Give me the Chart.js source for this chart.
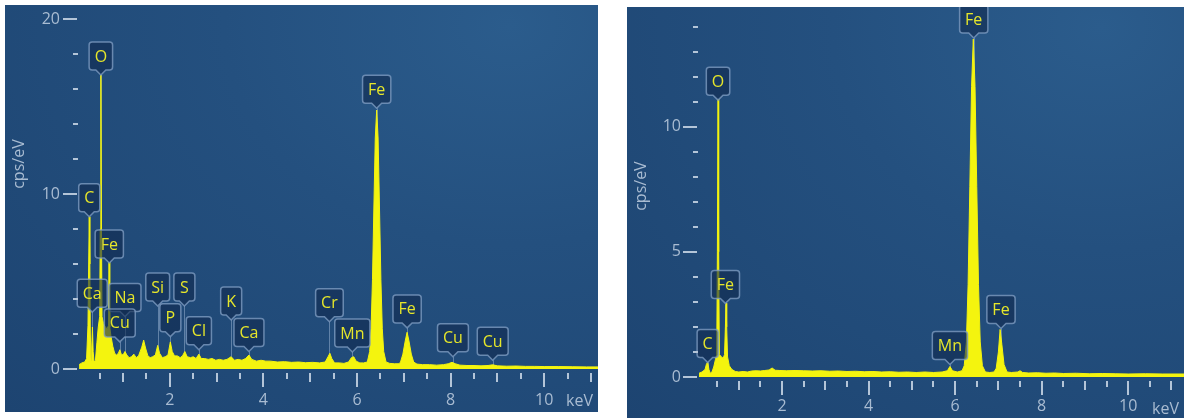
<!DOCTYPE html>
<html>
<head>
<meta charset="utf-8">
<script src="https://cdn.jsdelivr.net/npm/chart.js@4.4.1/dist/chart.umd.min.js"></script>
<style>
  body { margin: 0; background: #fff; width: 1184px; height: 419px; position: relative; overflow: hidden; }
  .panel { position: absolute; background: radial-gradient(ellipse at 85% 5%, #2b5c8c 0%, #24507f 40%, #1d4471 100%); }
  #p1 { left: 5px; top: 5px; width: 593px; height: 407px; }
  #p2 { left: 627px; top: 7px; width: 557px; height: 411px; }
</style>
</head>
<body>
<div class="panel" id="p1"><canvas id="c1"></canvas></div>
<div class="panel" id="p2"><canvas id="c2"></canvas></div>
<script>
// left spectrum (keV, cps/eV)
const energyA = [0.06,0.12,0.18,0.22,0.25,0.265,0.277,0.29,0.30,0.315,0.33,0.345,0.36,0.38,0.41,0.44,0.47,0.50,0.512,0.525,0.538,0.55,0.58,0.62,0.66,0.69,0.70,0.715,0.74,0.78,0.82,0.86,0.90,0.93,0.96,1.0,1.04,1.08,1.13,1.18,1.23,1.28,1.33,1.40,1.44,1.48,1.53,1.58,1.63,1.69,1.74,1.78,1.84,1.90,1.96,2.01,2.05,2.10,2.16,2.22,2.27,2.32,2.37,2.44,2.50,2.56,2.62,2.67,2.74,2.82,2.90,2.98,3.06,3.14,3.22,3.31,3.38,3.46,3.54,3.62,3.69,3.75,3.85,3.95,4.05,4.15,4.3,4.45,4.6,4.75,4.9,5.05,5.2,5.32,5.38,5.42,5.46,5.52,5.62,5.72,5.82,5.88,5.93,5.98,6.06,6.14,6.22,6.27,6.30,6.33,6.36,6.39,6.42,6.45,6.48,6.51,6.54,6.57,6.62,6.7,6.8,6.9,6.93,6.98,7.03,7.07,7.11,7.16,7.21,7.28,7.4,7.55,7.7,7.85,7.95,8.03,8.10,8.2,8.35,8.5,8.65,8.8,8.9,9.0,9.2,9.4,9.6,9.8,10.0,10.3,10.6,10.9,11.15];
const countsA = [0.25,0.35,0.4,0.6,2.5,6.0,8.7,6.0,2.0,0.5,1.2,2.4,1.0,0.4,0.5,1.5,2.4,3.0,8.0,16.8,8.0,3.0,2.6,2.4,2.3,2.5,6.1,2.4,1.9,1.3,0.9,0.8,0.9,1.1,0.85,0.8,1.0,0.8,0.65,0.7,0.85,0.65,0.75,1.25,1.65,1.2,0.75,0.65,0.7,0.8,1.35,0.9,0.65,0.7,0.8,1.55,1.0,0.75,0.75,0.65,0.75,1.0,0.7,0.65,0.7,0.6,0.85,0.6,0.6,0.55,0.6,0.5,0.55,0.5,0.55,0.7,0.5,0.55,0.5,0.6,0.8,0.55,0.45,0.5,0.45,0.45,0.4,0.42,0.38,0.4,0.36,0.38,0.35,0.4,0.7,0.9,0.6,0.35,0.35,0.32,0.4,0.65,0.7,0.45,0.35,0.35,0.4,1.0,2.3,5.1,9.2,13.2,14.8,13.2,9.2,5.1,2.3,1.0,0.4,0.32,0.3,0.3,0.4,0.85,1.6,2.1,1.6,0.85,0.4,0.28,0.25,0.25,0.22,0.25,0.3,0.38,0.3,0.22,0.2,0.2,0.18,0.2,0.24,0.18,0.16,0.17,0.15,0.15,0.14,0.14,0.13,0.12,0.12];
const elementsA = ["C","O","Fe","Ca","Na","Cu","Si","P","S","Cl","K","Ca","Cr","Mn","Fe","Fe","Cu","Cu"];
const elementKevA = [0.277,0.525,0.705,0.341,1.041,0.93,1.74,2.01,2.31,2.62,3.31,3.69,5.41,5.90,6.42,7.07,8.05,8.90];
const elementTipA = [8.7,16.8,6.06,3.25,3.0,1.55,3.6,1.85,3.6,1.1,2.8,1.0,2.7,0.97,14.9,2.35,0.7,0.5];

// right spectrum (keV, cps/eV)
const energyB = [0.08,0.15,0.22,0.25,0.28,0.31,0.34,0.38,0.42,0.46,0.49,0.505,0.52,0.535,0.55,0.6,0.64,0.67,0.69,0.705,0.72,0.74,0.78,0.84,0.92,1.0,1.1,1.2,1.3,1.4,1.5,1.6,1.7,1.77,1.84,1.95,2.1,2.3,2.5,2.7,2.9,3.1,3.3,3.5,3.7,3.9,4.1,4.3,4.5,4.7,4.9,5.1,5.3,5.5,5.7,5.82,5.88,5.94,6.05,6.16,6.21,6.26,6.30,6.34,6.38,6.42,6.46,6.50,6.54,6.58,6.63,6.7,6.8,6.9,6.95,7.0,7.04,7.08,7.13,7.2,7.3,7.45,7.5,7.56,7.7,7.9,8.1,8.3,8.5,8.8,9.1,9.4,9.7,10.0,10.4,10.8,11.3];
const countsB = [0.15,0.2,0.3,0.5,0.6,0.3,0.15,0.2,0.4,0.7,0.9,5.0,11.1,5.0,0.9,0.8,0.75,0.9,2.0,2.95,2.0,0.8,0.45,0.3,0.22,0.2,0.22,0.2,0.24,0.25,0.24,0.26,0.28,0.36,0.27,0.26,0.25,0.26,0.25,0.24,0.25,0.23,0.24,0.22,0.23,0.21,0.22,0.2,0.21,0.19,0.2,0.18,0.2,0.18,0.2,0.25,0.42,0.25,0.2,0.25,0.45,1.4,3.7,7.6,11.6,13.5,11.6,7.6,3.7,1.4,0.45,0.2,0.18,0.2,0.35,1.0,1.9,1.3,0.5,0.2,0.18,0.2,0.25,0.18,0.16,0.17,0.15,0.16,0.14,0.15,0.13,0.14,0.13,0.12,0.13,0.12,0.12];
const elementsB = ["C","O","Fe","Mn","Fe","Fe"];
const elementKevB = [0.28,0.52,0.69,5.88,6.43,7.06];
const elementTipB = [0.58,11.06,2.94,0.5,13.54,1.94];

const xTitle = "keV";
const yTitle = "cps/eV";

const FONT = '"Open Sans", "Noto Sans", sans-serif';
const TICK_COLOR = "#a9bcd2";
const YELLOW = "#f4f40e";

function edsPlugin(names, kev, tip, yMajor, titleFrac){
    return {
        id: "eds",
        beforeDatasetsDraw(chart){
            // thin pointer lines from the label tip down to the axis
            const ctx = chart.ctx, x = chart.scales.x, y = chart.scales.y;
            ctx.save();
            ctx.strokeStyle = "rgba(150,175,205,0.55)";
            ctx.lineWidth = 1;
            for(let i = 0; i < names.length; i++){
                const px = Math.round(x.getPixelForValue(kev[i])) + 0.5;
                ctx.beginPath();
                ctx.moveTo(px, y.getPixelForValue(tip[i]));
                ctx.lineTo(px, y.getPixelForValue(0));
                ctx.stroke();
            }
            ctx.restore();
        },
        afterDatasetsDraw(chart){
            const ctx = chart.ctx, x = chart.scales.x, y = chart.scales.y;
            ctx.save();
            ctx.font = "16px " + FONT;
            for(let i = 0; i < names.length; i++){
                const px = x.getPixelForValue(kev[i]);
                const ty = y.getPixelForValue(tip[i]);
                const w = Math.max(21, ctx.measureText(names[i]).width + 11);
                const h = 28;
                const b = ty - 5, t = b - h, l = px - w / 2, r = px + w / 2, rr = 3;
                ctx.beginPath();
                ctx.moveTo(l + rr, t);
                ctx.lineTo(r - rr, t);
                ctx.quadraticCurveTo(r, t, r, t + rr);
                ctx.lineTo(r, b - rr);
                ctx.quadraticCurveTo(r, b, r - rr, b);
                ctx.lineTo(px + 5, b);
                ctx.lineTo(px, ty);
                ctx.lineTo(px - 5, b);
                ctx.lineTo(l + rr, b);
                ctx.quadraticCurveTo(l, b, l, b - rr);
                ctx.lineTo(l, t + rr);
                ctx.quadraticCurveTo(l, t, l + rr, t);
                ctx.closePath();
                ctx.fillStyle = "rgba(16,42,78,0.6)";
                ctx.fill();
                ctx.strokeStyle = "rgba(125,155,192,0.8)";
                ctx.lineWidth = 1.5;
                ctx.stroke();
                ctx.fillStyle = "#e6e62a";
                ctx.textAlign = "center";
                ctx.textBaseline = "middle";
                ctx.fillText(names[i], px, t + h / 2 + 1);
            }
            ctx.restore();
        },
        afterDraw(chart){
            const ctx = chart.ctx, x = chart.scales.x, y = chart.scales.y;
            const area = chart.chartArea;
            ctx.save();
            ctx.strokeStyle = "#b4c5d8";
            ctx.lineWidth = 2;
            // y ticks
            y.ticks.forEach(tk => {
                const py = Math.round(y.getPixelForValue(tk.value));
                const major = tk.value % yMajor === 0;
                ctx.beginPath();
                ctx.moveTo(area.left - (major ? 16 : 6), py);
                ctx.lineTo(area.left - (major ? 2 : 1), py);
                ctx.stroke();
            });
            // x ticks
            x.ticks.forEach(tk => {
                const px = Math.round(x.getPixelForValue(tk.value));
                let len = 10;
                if(tk.value % 2 === 0) len = 18;
                else if(Number.isInteger(tk.value)) len = 13;
                ctx.beginPath();
                ctx.moveTo(px, area.bottom + 4);
                ctx.lineTo(px, area.bottom + len);
                ctx.stroke();
            });
            ctx.fillStyle = TICK_COLOR;
            ctx.font = "16px " + FONT;
            ctx.textBaseline = "middle";
            ctx.textAlign = "right";
            ctx.fillText(xTitle, area.right - 5, x.top + 32);
            ctx.translate(y.left + 14, area.top + titleFrac * (area.bottom - area.top));
            ctx.rotate(-Math.PI / 2);
            ctx.textAlign = "center";
            ctx.fillText(yTitle, 0, 0);
            ctx.restore();
        }
    };
}

function makeChart(id, energy, counts, names, kev, tip, cfg){
    const ctx = document.getElementById(id).getContext("2d");
    return new Chart(ctx, {
        type: "line",
        data: {
            datasets: [{
                data: energy.map((e, i) => ({ x: e, y: counts[i] })),
                borderColor: YELLOW,
                borderWidth: 1,
                backgroundColor: YELLOW,
                fill: "origin",
                pointRadius: 0,
                tension: 0
            }]
        },
        options: {
            responsive: true,
            maintainAspectRatio: false,
            devicePixelRatio: 1,
            animation: false,
            layout: { padding: 0 },
            plugins: { legend: { display: false }, tooltip: { enabled: false } },
            scales: {
                x: {
                    type: "linear",
                    min: cfg.xMin,
                    max: cfg.xMax,
                    border: { display: false },
                    grid: { display: false, drawTicks: false },
                    ticks: {
                        stepSize: 0.5,
                        autoSkip: false,
                        includeBounds: false,
                        maxRotation: 0,
                        padding: cfg.xPad,
                        color: TICK_COLOR,
                        font: { size: 16, family: FONT },
                        callback: v => (v > 0 && v % 2 === 0) ? String(v) : ""
                    },
                    afterFit: s => { s.height = cfg.xH; s.paddingLeft = 0; s.paddingRight = 0; }
                },
                y: {
                    min: 0,
                    max: cfg.yMax,
                    border: { display: false },
                    grid: { display: false, drawTicks: false },
                    ticks: {
                        stepSize: 1,
                        includeBounds: false,
                        padding: cfg.yPad,
                        color: TICK_COLOR,
                        font: { size: 16, family: FONT },
                        callback: v => (v % cfg.yMajor === 0) ? String(v) : ""
                    },
                    afterFit: s => { s.width = cfg.yW; s.paddingTop = 0; s.paddingBottom = 0; }
                }
            }
        },
        plugins: [edsPlugin(names, kev, tip, cfg.yMajor, cfg.titleFrac)]
    });
}

makeChart("c1", energyA, countsA, elementsA, elementKevA, elementTipA,
    { xMin: 0.058, xMax: 11.15, yMax: 20.8, yMajor: 10, yW: 74, xH: 43, xPad: 22, yPad: 19, titleFrac: 0.437 });

makeChart("c2", energyB, countsB, elementsB, elementKevB, elementTipB,
    { xMin: 0.08, xMax: 11.29, yMax: 14.78, yMajor: 5, yW: 72, xH: 41, xPad: 20, yPad: 18, titleFrac: 0.484 });
</script>
</body>
</html>
